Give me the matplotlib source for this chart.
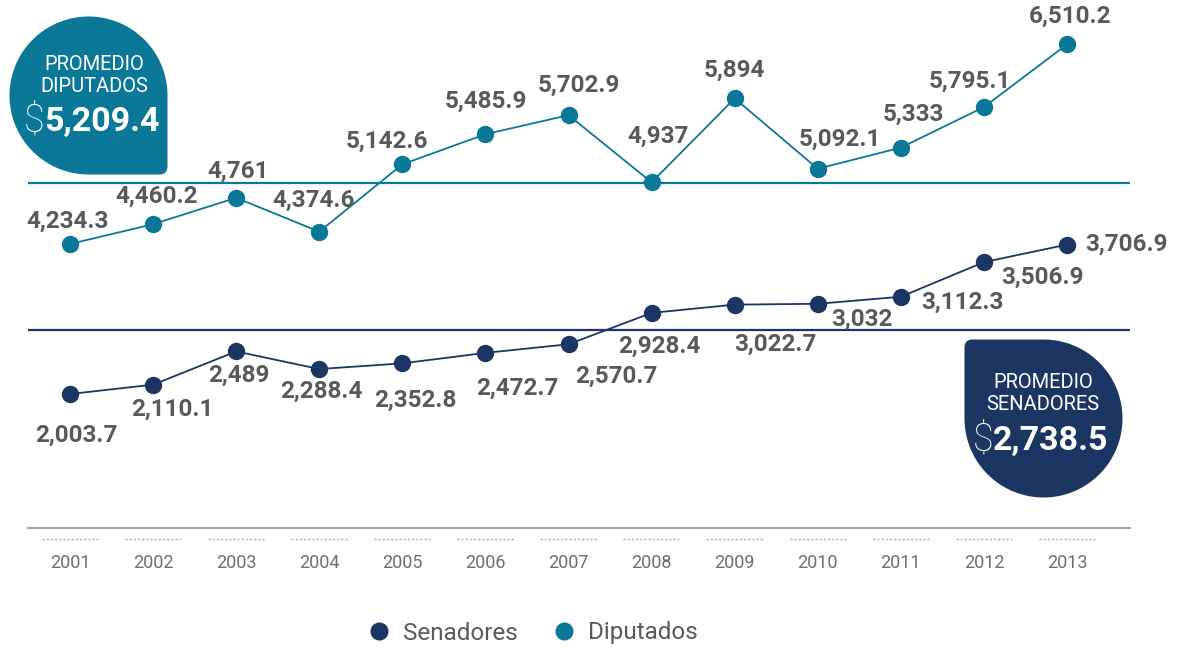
import numpy as np
import matplotlib.pyplot as plt
from matplotlib.path import Path
from matplotlib.patches import PathPatch
from matplotlib.lines import Line2D
import matplotlib.transforms as mtransforms

plt.rcParams['font.family'] = ['Roboto', 'DejaVu Sans']

years = [2001, 2002, 2003, 2004, 2005, 2006, 2007, 2008, 2009, 2010, 2011, 2012, 2013]
senadores = [2003.7, 2110.1, 2489, 2288.4, 2352.8, 2472.7, 2570.7, 2928.4, 3022.7, 3032, 3112.3, 3506.9, 3706.9]
diputados = [4234.3, 4460.2, 4761, 4374.6, 5142.6, 5485.9, 5702.9, 4937, 5894, 5092.1, 5333, 5795.1, 6510.2]
sen_labels = ["2,003.7", "2,110.1", "2,489", "2,288.4", "2,352.8", "2,472.7", "2,570.7",
              "2,928.4", "3,022.7", "3,032", "3,112.3", "3,506.9", "3,706.9"]
dip_labels = ["4,234.3", "4,460.2", "4,761", "4,374.6", "5,142.6", "5,485.9", "5,702.9",
              "4,937", "5,894", "5,092.1", "5,333", "5,795.1", "6,510.2"]
prom_sen = 2738.5
prom_dip = 5209.4
prom_dip_line = 4930   # where the reference actually draws the diputados average line

TEAL = '#0b7898'
NAVY = '#1c3664'
GRAY = '#58595b'
LGRAY = '#a7a9ac'

W, H = 1178, 647
fig = plt.figure(figsize=(W / 100, H / 100), dpi=100)

# two invisible axes with the same scale but different offsets (as in the infographic)
rect = [0, 119 / H, 1, 528 / H]
ax_s = fig.add_axes(rect)
ax_d = fig.add_axes(rect, sharex=ax_s)
ax_d.patch.set_alpha(0)
ax_s.set_xlim(2000.157, 2014.336)
ax_s.set_ylim(476.1, 6495.3)
ax_d.set_ylim(996.7, 7015.9)
for a in (ax_s, ax_d):
    for sp in a.spines.values():
        sp.set_visible(False)
    a.set_yticks([])
    a.tick_params(axis='x', length=0, labelbottom=False)

x0, x1 = 2000.49, 2013.76
ax_s.spines['bottom'].set_visible(True)
ax_s.spines['bottom'].set_bounds(x0, x1)
ax_s.spines['bottom'].set_color(LGRAY)
ax_s.spines['bottom'].set_linewidth(1.6)

ax_s.hlines(prom_sen, x0, x1, color=NAVY, lw=1.6)
ax_d.hlines(prom_dip_line, x0, x1, color=TEAL, lw=1.6)

ax_s.plot(years, senadores, color=NAVY, lw=1.3, marker='o', ms=11.5, zorder=3)
ax_d.plot(years, diputados, color=TEAL, lw=1.3, marker='o', ms=11.5, zorder=3)

sen_off = [(6, -41), (19, -25), (3, -24), (2, -22), (13, -37), (32, -35), (48, -32),
           (8, -33), (41, -40), (44, -15), (62, -6), (59, -15), (59, 0)]
dip_off = [(-3, 23), (3, 28), (2, 27), (-6, 31), (-15, 23), (0, 33), (10, 30),
           (6, 46), (0, 28), (22, 29), (13, 33), (-14, 26), (3, 28)]

for yr, v, lab, (dx, dy) in zip(years, senadores, sen_labels, sen_off):
    ax_s.annotate(lab, (yr, v), xytext=(dx, dy), textcoords='offset pixels',
                  ha='center', va='center', fontsize=17.5, fontweight='bold', color=GRAY)
for yr, v, lab, (dx, dy) in zip(years, diputados, dip_labels, dip_off):
    ax_d.annotate(lab, (yr, v), xytext=(dx, dy), textcoords='offset pixels',
                  ha='center', va='center', fontsize=17.5, fontweight='bold', color=GRAY)

# year labels and dotted tick marks under the axis
trans = mtransforms.blended_transform_factory(ax_s.transData, ax_s.transAxes)
for yr in years:
    ax_s.plot([yr - 0.34, yr + 0.34], [-11 / 528, -11 / 528], transform=trans,
              color=LGRAY, lw=1, ls=(0, (1.5, 1.5)), clip_on=False)
    ax_s.text(yr, -35 / 528, str(yr), transform=trans, ha='center', va='center',
              fontsize=13, fontweight='normal', color='#6d6e71')

# overlay in pixel coordinates for the badges
ov = fig.add_axes([0, 0, 1, 1])
ov.set_xlim(0, W)
ov.set_ylim(H, 0)
ov.axis('off')
ov.patch.set_alpha(0)


def drop(cx, cy, r, a0, c=8):
    t = np.radians(np.linspace(a0 + 90, a0 + 360, 120))
    pts = list(zip(cx + r * np.cos(t), cy + r * np.sin(t)))
    a = np.radians(a0)
    b = np.radians(a0 + 90)
    p1 = np.array([cx + r * np.cos(a), cy + r * np.sin(a)])
    q = np.array([cx + r * np.cos(b), cy + r * np.sin(b)])
    k = p1 + (q - np.array([cx, cy]))
    d1 = (k - p1) / np.linalg.norm(k - p1)
    d2 = (q - k) / np.linalg.norm(q - k)
    verts = pts + [tuple(k - c * d1), tuple(k), tuple(k + c * d2), tuple(q)]
    codes = [Path.MOVETO] + [Path.LINETO] * (len(pts) - 1) + \
            [Path.LINETO, Path.CURVE3, Path.CURVE3, Path.CLOSEPOLY]
    return Path(verts, codes)


ov.add_patch(PathPatch(drop(88.5, 95.5, 79, 0), fc=TEAL, ec='none'))
ov.add_patch(PathPatch(drop(1043.5, 418.5, 79, 180), fc=NAVY, ec='none'))

ov.text(94, 64, "PROMEDIO", ha='center', va='center', color='white', fontsize=14.5)
ov.text(94, 87, "DIPUTADOS", ha='center', va='center', color='white', fontsize=14.5)
ov.text(44, 121, "$", ha='right', va='center', color='white', fontsize=27, fontweight='light')
ov.text(44, 122, f"{prom_dip:,.1f}", ha='left', va='center', color='white', fontsize=24.5, fontweight='bold')

ov.text(1043, 383, "PROMEDIO", ha='center', va='center', color='white', fontsize=14.5)
ov.text(1043, 404, "SENADORES", ha='center', va='center', color='white', fontsize=14.5)
ov.text(993, 440, "$", ha='right', va='center', color='white', fontsize=27, fontweight='light')
ov.text(993, 441, f"{prom_sen:,.1f}", ha='left', va='center', color='white', fontsize=24.5, fontweight='bold')

handles = [Line2D([], [], marker='o', ls='none', color=NAVY, ms=12),
           Line2D([], [], marker='o', ls='none', color=TEAL, ms=12)]
fig.legend(handles, ["Senadores", "Diputados"], ncol=2, loc='center',
           bbox_to_anchor=(526 / W, 1 - 633 / H), frameon=False,
           labelcolor=GRAY, handletextpad=0.0, columnspacing=0.9,
           prop={'weight': 'normal', 'size': 17.5})

fig.savefig("out.png", dpi=100)
